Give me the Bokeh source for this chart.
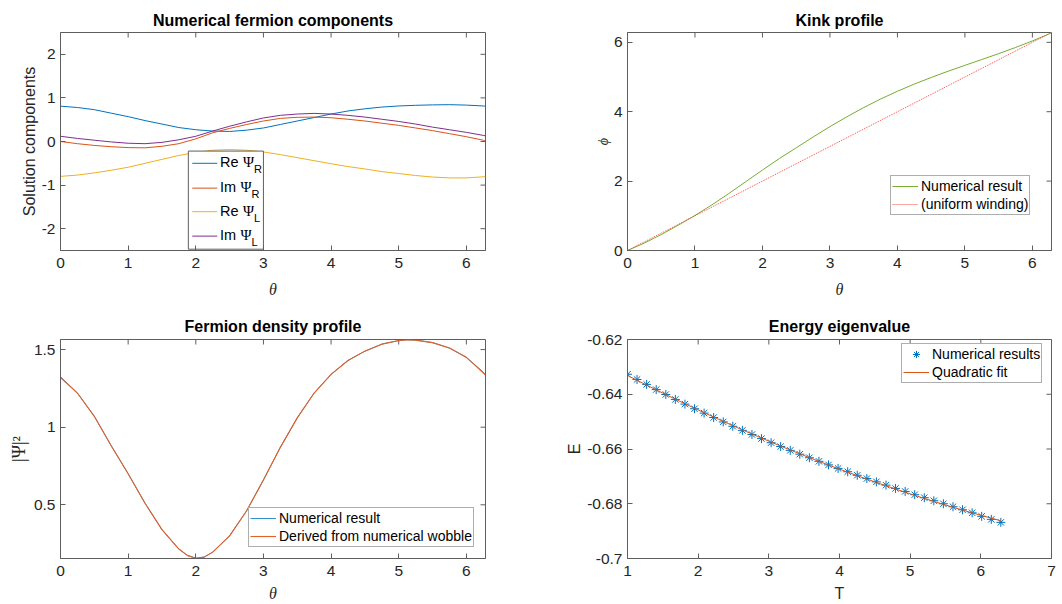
import numpy as np
from bokeh.plotting import figure
from bokeh.layouts import gridplot
from bokeh.models import (Range1d, FixedTicker, CustomJSTickFormatter,
                          Legend, LegendItem, ColumnDataSource)
from bokeh.core.properties import value
from bokeh.embed import file_html
from bokeh.resources import INLINE

# ---------------- data ----------------
theta = [0.0, 0.25, 0.5, 0.75, 1.0, 1.25, 1.5, 1.75, 2.0, 2.25, 2.5, 2.75, 3.0,
         3.25, 3.5, 3.75, 4.0, 4.25, 4.5, 4.75, 5.0, 5.25, 5.5, 5.75, 6.0, 6.25, 6.2832]

re_psi_r = [0.81, 0.78, 0.73, 0.65, 0.57, 0.48, 0.40, 0.32, 0.27, 0.24, 0.23, 0.26, 0.31,
            0.39, 0.47, 0.55, 0.63, 0.70, 0.75, 0.79, 0.815, 0.83, 0.84, 0.845, 0.835, 0.815, 0.81]
im_psi_r = [0.0, -0.05, -0.09, -0.12, -0.14, -0.145, -0.11, -0.05, 0.06, 0.20, 0.30, 0.39, 0.47,
            0.53, 0.555, 0.56, 0.545, 0.51, 0.47, 0.42, 0.37, 0.31, 0.25, 0.18, 0.11, 0.03, 0.01]
re_psi_l = [-0.80, -0.77, -0.72, -0.66, -0.59, -0.50, -0.41, -0.32, -0.25, -0.20, -0.185, -0.20, -0.24,
            -0.30, -0.37, -0.44, -0.51, -0.575, -0.63, -0.69, -0.735, -0.78, -0.815, -0.835, -0.835, -0.81, -0.805]
im_psi_l = [0.12, 0.07, 0.03, -0.01, -0.04, -0.05, -0.02, 0.04, 0.12, 0.24, 0.35, 0.45, 0.54,
            0.60, 0.63, 0.645, 0.63, 0.60, 0.56, 0.51, 0.46, 0.40, 0.33, 0.27, 0.21, 0.14, 0.13]

kink_phi = [0.0, 0.215, 0.46, 0.727, 1.01, 1.315, 1.64, 1.98, 2.32, 2.65, 2.96, 3.27, 3.57,
            3.853, 4.119, 4.365, 4.59, 4.797, 4.987, 5.166, 5.337, 5.504, 5.674, 5.851, 6.04, 6.245, 6.2832]
winding_theta = [0.0, 6.2832]
winding_phi = [0.0, 6.2832]

theta_density = [0.0, 0.25, 0.5, 0.75, 1.0, 1.25, 1.5, 1.75, 1.875, 2.0, 2.125, 2.25, 2.5, 2.75, 3.0,
                 3.25, 3.5, 3.75, 4.0, 4.25, 4.5, 4.75, 5.0, 5.125, 5.25, 5.5, 5.75, 6.0, 6.25, 6.2832]
density_numerical = [1.325, 1.22, 1.07, 0.88, 0.70, 0.51, 0.34, 0.215, 0.174, 0.156, 0.163, 0.195,
                     0.30, 0.46, 0.66, 0.87, 1.06, 1.22, 1.34, 1.43, 1.49, 1.535, 1.558, 1.563,
                     1.561, 1.545, 1.51, 1.45, 1.355, 1.34]
density_wobble = [1.32, 1.22, 1.07, 0.88, 0.70, 0.51, 0.34, 0.215, 0.174, 0.156, 0.163, 0.195,
                  0.30, 0.46, 0.66, 0.87, 1.06, 1.22, 1.34, 1.43, 1.49, 1.535, 1.558, 1.563,
                  1.561, 1.545, 1.51, 1.45, 1.35, 1.335]

T_vals = [1.000, 1.135, 1.271, 1.406, 1.542, 1.677, 1.813, 1.948, 2.084, 2.219,
          2.355, 2.490, 2.626, 2.761, 2.896, 3.032, 3.167, 3.303, 3.438, 3.574,
          3.709, 3.845, 3.980, 4.116, 4.251, 4.387, 4.522, 4.658, 4.793, 4.929,
          5.064, 5.200, 5.335, 5.470, 5.606, 5.741, 5.877, 6.012, 6.148, 6.283]
E_vals = [-0.6327, -0.6346, -0.6364, -0.6383, -0.6401, -0.6419, -0.6436, -0.6453, -0.6469, -0.6485,
          -0.6501, -0.6517, -0.6532, -0.6547, -0.6562, -0.6577, -0.6591, -0.6605, -0.6619, -0.6632,
          -0.6645, -0.6658, -0.6671, -0.6683, -0.6696, -0.6708, -0.6720, -0.6732, -0.6744, -0.6755,
          -0.6767, -0.6778, -0.6789, -0.6800, -0.6811, -0.6822, -0.6833, -0.6846, -0.6857, -0.6868]

theta_ticks = [0, 1, 2, 3, 4, 5, 6]
comp_ticks = [-2, -1, 0, 1, 2]
kink_ticks = [0, 2, 4, 6]
density_ticks = [0.5, 1, 1.5]
T_ticks = [1, 2, 3, 4, 5, 6, 7]
E_ticks = [-0.7, -0.68, -0.66, -0.64, -0.62]

# quadratic fit of the energy eigenvalue
fit_coef = np.polyfit(T_vals, E_vals, 2)
E_fit = np.polyval(fit_coef, T_vals)

# ---------------- style ----------------
BLUE, ORANGE, YELLOW, PURPLE, GREEN = "#0072BD", "#D95319", "#EDB120", "#7E2F8E", "#77AC30"
TXT = "#262626"
BOX = "#5e5e5e"
SANS = "Liberation Sans"
SERIF = "Liberation Serif"
TWO_PI = 2 * np.pi

fmt = CustomJSTickFormatter(code="return String(Number(tick.toFixed(4)));")


def make_panel(title, xr, yr, xticks, yticks, w, h, left, right, top, bottom, title_gap):
    p = figure(width=w, height=h, x_range=Range1d(*xr), y_range=Range1d(*yr),
               output_backend="svg", toolbar_location=None,
               min_border_left=left, min_border_right=right,
               min_border_top=top, min_border_bottom=bottom)
    p.background_fill_color = "white"
    p.border_fill_color = "white"
    p.outline_line_color = BOX
    p.outline_line_width = 1
    p.xgrid.visible = False
    p.ygrid.visible = False
    p.title.text = title
    p.title.text_font = SANS
    p.title.text_font_style = "bold"
    p.title.text_font_size = "16px"
    p.title.text_color = "black"
    p.title.align = "center"
    p.title.standoff = title_gap
    xax, yax = p.below[0], p.left[0]
    for ax, ticks in ((xax, xticks), (yax, yticks)):
        ax.ticker = FixedTicker(ticks=ticks)
        ax.formatter = fmt
        ax.axis_line_color = BOX
        ax.major_tick_line_color = BOX
        ax.major_tick_in = 5
        ax.major_tick_out = 0
        ax.minor_tick_line_color = None
        ax.major_label_text_font = SANS
        ax.major_label_text_font_size = "15.5px"
        ax.major_label_text_color = TXT
        ax.axis_label_text_color = TXT
        ax.axis_label_text_font_size = "16px"
        ax.axis_label_text_font_style = "normal"
    xax.major_label_standoff = 7
    yax.major_label_standoff = 5
    # inward ticks along the top and right edges of the box
    p.ray(x=xticks, y=[yr[1]] * len(xticks), length=5, length_units="screen",
          angle=-np.pi / 2, line_color=BOX, line_width=1)
    p.ray(x=[xr[1]] * len(yticks), y=yticks, length=5, length_units="screen",
          angle=np.pi, line_color=BOX, line_width=1)
    return p


def theta_label(p, gap):
    ax = p.below[0]
    ax.axis_label = "θ"
    ax.axis_label_text_font = SERIF
    ax.axis_label_text_font_style = "italic"
    ax.axis_label_standoff = gap


def add_legend(p, items, loc):
    leg = Legend(items=items, location=loc, padding=1, spacing=0, margin=0,
                 glyph_width=26, glyph_height=18, label_height=18, label_standoff=3,
                 label_text_font=SANS, label_text_font_size="14px", label_text_color="black",
                 border_line_color=BOX, border_line_width=1,
                 background_fill_color="white", background_fill_alpha=1.0)
    p.add_layout(leg)


# ---- panel 1: fermion components ----
p1 = make_panel("Numerical fermion components", (0, TWO_PI), (-2.5, 2.5),
                theta_ticks, comp_ticks, 531, 300, 60, 46, 32, 49, 8)
theta_label(p1, 10)
p1.left[0].axis_label = "Solution components"
p1.left[0].axis_label_text_font = SANS
p1.left[0].axis_label_standoff = 1

comp_colors = [BLUE, ORANGE, YELLOW, PURPLE]
for series, col in zip([re_psi_r, im_psi_r, re_psi_l, im_psi_l], comp_colors):
    p1.line(theta, series, line_color=col, line_width=1)

# legend box with subscripted labels
leg_left, leg_right, leg_top, leg_bottom = 1.89, 3.0, -0.22, -2.47
leg_rows = [-0.50, -1.07, -1.61, -2.17]
p1.quad(left=[leg_left], right=[leg_right], top=[leg_top], bottom=[leg_bottom],
        fill_color="white", line_color=BOX, line_width=1)
p1.segment(x0=[1.948] * 4, x1=[2.318] * 4, y0=leg_rows, y1=leg_rows,
           line_color=comp_colors, line_width=1)
leg_src = ColumnDataSource(dict(
    x=[2.357] * 4, y=leg_rows,
    part=["Re", "Im", "Re", "Im"],
    psi=["Ψ"] * 4,
    psi_dx=[23.0, 20.5, 23.0, 20.5],
    sub=["R", "R", "L", "L"],
    sub_dx=[34.0, 31.5, 34.0, 31.5],
))
p1.text(x="x", y="y", text="part", source=leg_src, text_font=value(SANS),
        text_font_size="14.5px", text_color="black", text_baseline="middle", y_offset=-1)
p1.text(x="x", y="y", text="psi", source=leg_src, x_offset="psi_dx", text_font=value(SERIF),
        text_font_size="15px", text_color="black", text_baseline="middle", y_offset=-1)
p1.text(x="x", y="y", text="sub", source=leg_src, x_offset="sub_dx", text_font=value(SANS),
        text_font_size="11px", text_color="black", text_baseline="middle", y_offset=6)

# ---- panel 2: kink profile ----
p2 = make_panel("Kink profile", (0, TWO_PI), (0, TWO_PI),
                theta_ticks, kink_ticks, 531, 300, 96, 11, 32, 48, 8)
theta_label(p2, 10)
p2.left[0].axis_label = "ϕ"
p2.left[0].axis_label_text_font = SERIF
p2.left[0].axis_label_text_font_style = "italic"
p2.left[0].axis_label_text_font_size = "14px"
p2.left[0].axis_label_standoff = 0
r_kink = p2.line(theta, kink_phi, line_color=GREEN, line_width=1)
r_wind = p2.line(winding_theta, winding_phi, line_color="#FF4a4a", line_width=1, line_dash="1 1")
add_legend(p2, [LegendItem(label="Numerical result", renderers=[r_kink]),
                LegendItem(label="(uniform winding)", renderers=[r_wind])], (263, 35))

# ---- panel 3: fermion density ----
p3 = make_panel("Fermion density profile", (0, TWO_PI), (0.154, 1.565),
                theta_ticks, density_ticks, 531, 304, 60, 46, 38, 46, 9)
theta_label(p3, 6)
p3.left[0].axis_label = "|Ψ|²"
p3.left[0].axis_label_text_font = SERIF
p3.left[0].axis_label_text_font_size = "18px"
p3.left[0].axis_label_standoff = 2
r_num = p3.line(theta_density, density_numerical, line_color=BLUE, line_width=0.8)
r_wob = p3.line(theta_density, density_wobble, line_color="#E0602A", line_width=1.1)
add_legend(p3, [LegendItem(label="Numerical result", renderers=[r_num]),
                LegendItem(label="Derived from numerical wobble", renderers=[r_wob])], (188, 11))

# ---- panel 4: energy eigenvalue ----
p4 = make_panel("Energy eigenvalue", (1, 7), (-0.7, -0.62),
                T_ticks, E_ticks, 531, 304, 96, 11, 39, 46, 9)
p4.below[0].axis_label = "T"
p4.below[0].axis_label_text_font = SANS
p4.below[0].axis_label_standoff = 6
p4.left[0].axis_label = "E"
p4.left[0].axis_label_text_font = SANS
p4.left[0].axis_label_standoff = 1
r_pts = p4.scatter(T_vals, E_vals, marker="asterisk", size=9, line_color=BLUE, line_width=1)
r_fit = p4.line(T_vals, E_fit, line_color=ORANGE, line_width=1)
add_legend(p4, [LegendItem(label="Numerical results", renderers=[r_pts]),
                LegendItem(label="Quadratic fit", renderers=[r_fit])], (274, 175))

grid = gridplot([[p1, p2], [p3, p4]], toolbar_location=None)

open("out.html", "w").write(file_html(grid, INLINE))
